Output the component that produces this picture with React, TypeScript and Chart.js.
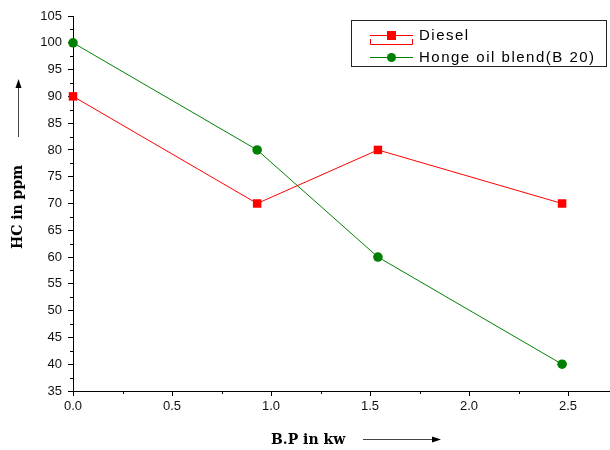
import React, { useEffect, useRef } from 'react';
import { Chart, registerables } from 'chart.js';

Chart.register(...registerables);

// ---- data ----
const bpValues = [0, 0.93, 1.54, 2.47];
const dieselHC = [90, 70, 80, 70];
const hongeHC = [100, 80, 60, 40];
const seriesNames = ['Diesel', 'Honge oil blend(B 20)'];
const xTitle = 'B.P in kw';
const yTitle = 'HC in ppm';
const xTickValues = [0, 0.5, 1.0, 1.5, 2.0, 2.5];
const xMinorTicks = [0.25, 0.75, 1.25, 1.75, 2.25];
const yTickValues = [35, 40, 45, 50, 55, 60, 65, 70, 75, 80, 85, 90, 95, 100, 105];
const yMinorTicks = [37.5, 42.5, 47.5, 52.5, 57.5, 62.5, 67.5, 72.5, 77.5, 82.5, 87.5, 92.5, 97.5, 102.5];
const yMin = 35;
const yMax = 105;
const xMin = 0;
const xMax = 2.712;

const RED = '#ff0000';
const GREEN = '#008000';

const overlay = {
  id: 'overlay',
  afterDraw(chart: any) {
    const ctx = chart.ctx;
    const xs = chart.scales.x;
    const ys = chart.scales.y;
    const area = chart.chartArea;
    ctx.save();
    // minor ticks
    ctx.strokeStyle = '#000';
    ctx.lineWidth = 1;
    ctx.beginPath();
    yMinorTicks.forEach((v) => {
      const py = Math.round(ys.getPixelForValue(v)) + 0.5;
      ctx.moveTo(area.left - 3, py);
      ctx.lineTo(area.left, py);
    });
    xMinorTicks.forEach((v) => {
      const px = Math.round(xs.getPixelForValue(v)) + 0.5;
      ctx.moveTo(px, area.bottom);
      ctx.lineTo(px, area.bottom + 3);
    });
    ctx.stroke();

    // axis titles with arrows
    ctx.fillStyle = '#000';
    ctx.font = 'bold 14px "DejaVu Serif"';
    ctx.textBaseline = 'middle';
    ctx.textAlign = 'left';
    ctx.fillText(xTitle, 271, 440);
    ctx.strokeStyle = '#444';
    ctx.beginPath();
    ctx.moveTo(363, 439.5);
    ctx.lineTo(434, 439.5);
    ctx.stroke();
    ctx.fillStyle = '#000';
    ctx.beginPath();
    ctx.moveTo(441, 439.5);
    ctx.lineTo(432, 436.5);
    ctx.lineTo(432, 442.5);
    ctx.closePath();
    ctx.fill();

    ctx.save();
    ctx.translate(18, 207);
    ctx.rotate(-Math.PI / 2);
    ctx.textAlign = 'center';
    ctx.fillText(yTitle, 0, 0);
    ctx.restore();
    ctx.strokeStyle = '#444';
    ctx.beginPath();
    ctx.moveTo(18.5, 137);
    ctx.lineTo(18.5, 86);
    ctx.stroke();
    ctx.beginPath();
    ctx.moveTo(18.5, 79);
    ctx.lineTo(15.5, 88);
    ctx.lineTo(21.5, 88);
    ctx.closePath();
    ctx.fill();

    // legend
    ctx.fillStyle = '#fff';
    ctx.fillRect(351, 20, 256, 47);
    ctx.strokeStyle = '#222';
    ctx.strokeRect(351.5, 20.5, 255, 46);
    const rows = [
      { y: 35.5, color: RED, style: 'rect', name: seriesNames[0] },
      { y: 57.5, color: GREEN, style: 'circle', name: seriesNames[1] },
    ];
    rows.forEach((r) => {
      ctx.strokeStyle = r.color;
      ctx.lineWidth = 1;
      ctx.beginPath();
      ctx.moveTo(370, r.y);
      ctx.lineTo(413, r.y);
      ctx.stroke();
      ctx.fillStyle = r.color;
      if (r.style === 'rect') {
        ctx.fillRect(387, r.y - 4.5, 9, 9);
        ctx.beginPath();
        ctx.moveTo(370.5, 39);
        ctx.lineTo(370.5, 44.5);
        ctx.lineTo(412.5, 44.5);
        ctx.lineTo(412.5, 39);
        ctx.stroke();
      } else {
        ctx.beginPath();
        ctx.arc(391.5, r.y, 4.5, 0, Math.PI * 2);
        ctx.fill();
      }
      ctx.fillStyle = '#000';
      ctx.font = '15px "Liberation Sans"';
      (ctx as any).letterSpacing = '1.5px';
      ctx.textAlign = 'left';
      ctx.textBaseline = 'middle';
      ctx.fillText(r.name, 419, r.y);
      (ctx as any).letterSpacing = '0px';
    });
    ctx.restore();
  },
};

export default function App() {
  const ref = useRef<HTMLCanvasElement | null>(null);
  useEffect(() => {
    if (!ref.current) return;
    const tickFont = { family: '"Liberation Sans"', size: 13 };
    const chart = new Chart(ref.current, {
      type: 'line',
      data: {
        datasets: [
          {
            label: seriesNames[0],
            data: bpValues.map((x, i) => ({ x, y: dieselHC[i] })),
            borderColor: RED,
            backgroundColor: RED,
            borderWidth: 1,
            pointStyle: 'rect',
            pointRadius: 6,
            pointBorderWidth: 0,
            tension: 0,
            clip: false,
          },
          {
            label: seriesNames[1],
            data: bpValues.map((x, i) => ({ x, y: hongeHC[i] })),
            borderColor: GREEN,
            backgroundColor: GREEN,
            borderWidth: 1,
            pointStyle: 'circle',
            pointRadius: 4.8,
            pointBorderWidth: 0,
            tension: 0,
            clip: false,
          },
        ],
      },
      options: {
        animation: false,
        responsive: true,
        maintainAspectRatio: false,
        layout: { autoPadding: false, padding: { top: 16, right: 0, bottom: 0, left: 0 } },
        plugins: { legend: { display: false }, tooltip: { enabled: false } },
        scales: {
          x: {
            type: 'linear',
            min: xMin,
            max: xMax,
            afterBuildTicks: (scale: any) => {
              scale.ticks = xTickValues.map((value) => ({ value }));
            },
            afterFit: (scale: any) => {
              scale.height = 59;
              scale.paddingLeft = 0;
              scale.paddingRight = 0;
            },
            ticks: {
              color: '#111',
              font: tickFont,
              padding: 3,
              maxRotation: 0,
              autoSkip: false,
              callback: (v: any) => Number(v).toFixed(1),
            },
            grid: { drawOnChartArea: false, drawTicks: true, tickLength: 5, tickColor: '#000' },
            border: { display: true, color: '#000', width: 1 },
          },
          y: {
            type: 'linear',
            min: yMin,
            max: yMax,
            afterBuildTicks: (scale: any) => {
              scale.ticks = yTickValues.map((value) => ({ value }));
            },
            afterFit: (scale: any) => {
              scale.width = 73;
            },
            ticks: {
              color: '#111',
              font: tickFont,
              padding: 6,
              autoSkip: false,
              callback: (v: any) => String(v),
            },
            grid: { drawOnChartArea: false, drawTicks: true, tickLength: 5, tickColor: '#000' },
            border: { display: true, color: '#000', width: 1 },
          },
        },
      },
      plugins: [overlay],
    });
    return () => chart.destroy();
  }, []);
  return (
    <div style={{ position: 'fixed', left: 0, top: 0, width: 610, height: 450, background: '#fff' }}>
      <canvas ref={ref} />
    </div>
  );
}
